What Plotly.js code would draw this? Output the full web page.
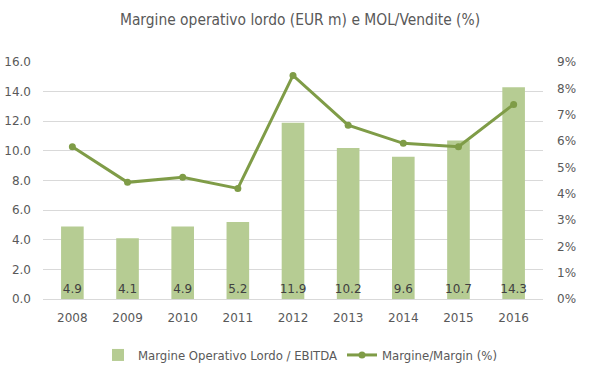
<!DOCTYPE html>
<html><head><meta charset="utf-8">
<script src="https://cdn.plot.ly/plotly-3.0.1.min.js"></script>
<style>html,body{margin:0;padding:0;background:#fff}</style>
</head><body>
<div id="chart" style="width:600px;height:378px"></div>
<script>
const years = ['2008','2009','2010','2011','2012','2013','2014','2015','2016'];
const ebitda = [4.9, 4.1, 4.9, 5.2, 11.9, 10.2, 9.6, 10.7, 14.3];
const margin = [5.78, 4.43, 4.62, 4.20, 8.49, 6.60, 5.91, 5.78, 7.39];
const barLabels = ebitda.map(v => v.toFixed(1));

const barColor = '#b6cc93';
const lineColor = '#7f9c47';
const narrow = 'Liberation Sans Narrow, DejaVu Sans Condensed, sans-serif';
const tickFont = {family: 'DejaVu Sans, Verdana, sans-serif', size: 12, color: '#595959'};

const traces = [
  {
    type: 'bar', x: years, y: ebitda, name: 'Margine Operativo Lordo / EBITDA',
    marker: {color: barColor},
    text: barLabels, textposition: 'inside', insidetextanchor: 'start', textangle: 0,
    constraintext: 'none',
    textfont: {family: 'DejaVu Sans, Verdana, sans-serif', size: 12, color: '#404040'},
    cliponaxis: false, hoverinfo: 'x+y'
  },
  {
    type: 'scatter', mode: 'lines+markers', x: years, y: margin, yaxis: 'y2',
    name: 'Margine/Margin (%)',
    line: {color: lineColor, width: 3},
    marker: {color: lineColor, size: 7}
  }
];

const layout = {
  width: 600, height: 378,
  margin: {l: 43, r: 57, t: 62, b: 79, autoexpand: false},
  paper_bgcolor: '#fff', plot_bgcolor: '#fff',
  title: {text: 'Margine operativo lordo (EUR m) e MOL/Vendite (%)',
    font: {family: narrow, size: 15.4, color: '#595959'},
    x: 0.5, xref: 'container', xanchor: 'center', y: 1 - 20/378, yref: 'container', yanchor: 'middle'},
  bargap: 0.59,
  showlegend: true,
  legend: {orientation: 'h', x: 0.5, xref: 'container', xanchor: 'center', y: 1 - 355/378, yref: 'container', yanchor: 'middle',
    font: {family: narrow, size: 13, color: '#595959'},
    tracegroupgap: 0},
  xaxis: {type: 'category', tickfont: tickFont, showgrid: false, zeroline: false,
    showline: true, linecolor: '#d9d9d9', linewidth: 1, ticks: '', ticklen: 0, ticklabelstandoff: 8},
  yaxis: {range: [0, 16], dtick: 2, tickformat: '.1f', tickfont: tickFont,
    gridcolor: '#d9d9d9', gridwidth: 1, zeroline: false, showline: false, ticks: '', ticklabelstandoff: 11},
  yaxis2: {range: [0, 9], dtick: 1, overlaying: 'y', side: 'right', ticksuffix: '%',
    tickfont: tickFont, showgrid: false, zeroline: false, showline: false, ticks: '', ticklabelstandoff: 13}
};

Plotly.newPlot('chart', traces, layout, {displayModeBar: false, staticPlot: true});
</script>
</body></html>
